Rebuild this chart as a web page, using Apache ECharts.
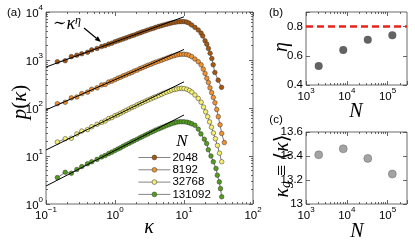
<!DOCTYPE html>
<html><head><meta charset="utf-8">
<script src="https://cdn.jsdelivr.net/npm/echarts@6/dist/echarts.min.js"></script>
<style>html,body{margin:0;padding:0;background:#fff}#c{width:415px;height:241px}</style>
</head><body><div id="c"></div>
<script>
// ---------------- data ----------------
const N_LABELS = ['2048', '8192', '32768', '131092'];
const N_VALUES = [2048, 8192, 32768, 131092];
const COLORS = ['#a8580e', '#f2922e', '#f4ef70', '#529c1e'];

// shared kappa grid for the rising part of p(kappa)
const K_BODY = [0.146,0.19,0.233,0.28,0.33,0.4,0.46,0.55,0.64,0.72,0.81,0.9,1.0,1.1,1.2,1.32,1.45,1.6,1.75,1.9,2.1,2.3,2.5,2.75,3.0,3.3,3.6,3.9,4.3,4.7,5.1,5.6,6.1,6.6,7.2,7.8,8.5,9.2,10];
// values read as log10 p(kappa)
const LOGP_BODY_2048   = [2.965,2.985,3.07,3.10,3.13,3.16,3.21,3.24,3.28,3.30,3.33,3.35,3.38,3.40,3.42,3.44,3.46,3.485,3.505,3.52,3.545,3.565,3.585,3.605,3.625,3.645,3.66,3.68,3.70,3.715,3.73,3.745,3.76,3.772,3.783,3.792,3.798,3.80,3.80];
const LOGP_BODY_8192   = [2.09,2.12,2.21,2.23,2.30,2.33,2.39,2.42,2.48,2.49,2.54,2.56,2.59,2.62,2.64,2.67,2.69,2.72,2.74,2.77,2.79,2.82,2.84,2.866,2.89,2.91,2.935,2.955,2.975,2.995,3.015,3.035,3.055,3.075,3.09,3.105,3.115,3.12,3.12];
const LOGP_BODY_32768  = [1.29,1.36,1.37,1.46,1.52,1.55,1.61,1.66,1.70,1.73,1.78,1.80,1.84,1.86,1.89,1.92,1.95,1.98,2.01,2.03,2.065,2.09,2.115,2.14,2.165,2.19,2.215,2.235,2.26,2.285,2.31,2.33,2.35,2.37,2.385,2.395,2.405,2.41,2.405];
const LOGP_BODY_131092 = [0.55,0.66,0.64,0.72,0.78,0.84,0.88,0.93,0.98,1.01,1.05,1.08,1.115,1.145,1.17,1.205,1.235,1.265,1.295,1.32,1.35,1.38,1.405,1.435,1.46,1.49,1.515,1.54,1.565,1.59,1.61,1.635,1.655,1.675,1.69,1.705,1.713,1.715,1.712];
// cut-off tails
const K_TAIL_2048      = [10.9,11.8,12.9,14.4,16.1,17.7,18.7,20.2,21.4,22.6,23.9,25.3,26.5,28.0,31.3,35.0];
const LOGP_TAIL_2048   = [3.79,3.77,3.73,3.68,3.625,3.56,3.50,3.40,3.33,3.24,3.14,3.03,2.90,2.74,2.58,2.43];
const K_TAIL_8192      = [10.9,11.8,12.9,14.4,16.1,17.7,19.0,20.2,21.4,22.6,23.8,25.2,26.6,28.1,29.8,31.4,33.3,35.2,38.4];
const LOGP_TAIL_8192   = [3.115,3.10,3.07,3.02,2.965,2.90,2.81,2.72,2.62,2.53,2.42,2.32,2.22,2.11,1.97,1.82,1.65,1.47,1.28];
const K_TAIL_32768     = [11.0,12.0,13.0,14.4,16.1,17.7,19.2,20.6,22.0,23.5,25.0,26.7,28.5,30.5,32.7,35.2];
const LOGP_TAIL_32768  = [2.39,2.365,2.33,2.27,2.20,2.12,2.02,1.92,1.82,1.71,1.60,1.48,1.36,1.22,1.06,0.88];
const K_TAIL_131092    = [11.0,12.0,13.0,14.4,16.1,17.6,19.7,21.3,22.5,24.6,26.6,29.1,30.4,32.5,33.8,35.2];
const LOGP_TAIL_131092 = [1.705,1.69,1.67,1.64,1.56,1.46,1.35,1.26,1.13,1.00,0.88,0.74,0.60,0.46,0.32,0.15];

// power-law guide lines ~kappa^eta (log10 p at kappa = 0.1 and kappa = 10)
const FIT_K = [0.1, 10];
const FIT_LOGP_START = [2.854, 1.96, 1.125, 0.375];
const FIT_LOGP_END   = [3.90, 3.22, 2.545, 1.855];

// panel (b) and (c)
const ETA = [0.53, 0.64, 0.71, 0.74];
const ETA_REF = 0.8;
const KAPPA_G = [13.41, 13.46, 13.38, 13.25];

// ---------------- build ----------------
const SANS = '"Liberation Sans", Arial, sans-serif';
const SERIF = '"Liberation Serif", "DejaVu Serif", serif';
const AX = '#444';

const bodies = [LOGP_BODY_2048, LOGP_BODY_8192, LOGP_BODY_32768, LOGP_BODY_131092];
const tailsK = [K_TAIL_2048, K_TAIL_8192, K_TAIL_32768, K_TAIL_131092];
const tailsP = [LOGP_TAIL_2048, LOGP_TAIL_8192, LOGP_TAIL_32768, LOGP_TAIL_131092];

const supRich = {
  b: { fontSize: 11.5, fontFamily: SANS, color: '#000', padding: [4, 0, 0, 0] },
  s: { fontSize: 8, fontFamily: SANS, color: '#000', verticalAlign: 'top' }
};
function powFmt(v) {
  const l = Math.log10(v), e = Math.round(l);
  if (Math.abs(l - e) > 1e-6) return '';
  return '{b|10}{s|' + (e < 0 ? '\u2212' + (-e) : e) + '}';
}
function logMain(grid, min, max, pos) {
  return { type: 'log', logBase: 10, gridIndex: grid, min, max, position: pos,
    axisLine: { show: false, onZero: false }, splitLine: { show: false },
    axisTick: { show: true, inside: true, length: 4, lineStyle: { color: AX, width: 0.8 } },
    axisLabel: { formatter: powFmt, rich: supRich, margin: pos === 'left' ? 3 : 2, showMinLabel: true, showMaxLabel: true } };
}
function tickAxis(grid, pos, min, max, values, len) {
  return { type: 'value', gridIndex: grid, position: pos, min, max,
    axisLine: { show: false, onZero: false }, splitLine: { show: false }, axisLabel: { show: false },
    axisTick: { show: true, inside: true, length: len, customValues: values, lineStyle: { color: AX, width: 0.8 } } };
}
function minors(d0, d1, lo, hi) {
  const out = [];
  for (let d = d0; d <= d1; d++) for (let k = 2; k <= 9; k++) {
    const v = Math.log10(k) + d; if (v > lo + 1e-9 && v < hi - 1e-9) out.push(v);
  }
  return out;
}
const BX_MAX = 3e5, BX_LMAX = Math.log10(BX_MAX);

const grids = [
  { left: 46, top: 12, width: 207, height: 192 },
  { left: 306, top: 12, width: 101, height: 73 },
  { left: 306, top: 132, width: 101, height: 72 }
].map(g => Object.assign(g, { show: true, borderColor: AX, borderWidth: 0.8, backgroundColor: 'transparent' }));

const xAxis = [
  logMain(0, 0.1, 100, 'bottom'),
  logMain(1, 1000, BX_MAX, 'bottom'),
  logMain(2, 1000, BX_MAX, 'bottom'),
  tickAxis(0, 'top', -1, 2, [-1, 0, 1, 2], 4),
  tickAxis(0, 'bottom', -1, 2, minors(-1, 1, -1, 2), 2),
  tickAxis(0, 'top', -1, 2, minors(-1, 1, -1, 2), 2),
  tickAxis(1, 'top', 3, BX_LMAX, [3, 4, 5], 4),
  tickAxis(1, 'bottom', 3, BX_LMAX, minors(3, 5, 3, BX_LMAX), 2),
  tickAxis(1, 'top', 3, BX_LMAX, minors(3, 5, 3, BX_LMAX), 2),
  tickAxis(2, 'top', 3, BX_LMAX, [3, 4, 5], 4),
  tickAxis(2, 'bottom', 3, BX_LMAX, minors(3, 5, 3, BX_LMAX), 2),
  tickAxis(2, 'top', 3, BX_LMAX, minors(3, 5, 3, BX_LMAX), 2)
];
const linLabel = { fontSize: 11.5, fontFamily: SANS, color: '#000', margin: 3 };
const yAxis = [
  logMain(0, 1, 1e4, 'left'),
  { type: 'value', gridIndex: 1, min: 0.4, max: 0.9, interval: 0.2, position: 'left',
    axisLine: { show: false, onZero: false }, splitLine: { show: false },
    axisTick: { show: true, inside: true, length: 4, lineStyle: { color: AX, width: 0.8 } },
    axisLabel: Object.assign({ formatter: v => (v > 0.85 ? '' : v.toFixed(1)) }, linLabel) },
  { type: 'value', gridIndex: 2, min: 13, max: 13.6, interval: 0.2, position: 'left',
    axisLine: { show: false, onZero: false }, splitLine: { show: false },
    axisTick: { show: true, inside: true, length: 4, lineStyle: { color: AX, width: 0.8 } },
    axisLabel: Object.assign({ formatter: v => { const r = Math.round(v * 10) / 10; return r === 13 ? '13' : r.toFixed(1); } }, linLabel) },
  tickAxis(0, 'right', 0, 4, [0, 1, 2, 3, 4], 4),
  tickAxis(0, 'left', 0, 4, minors(0, 3, 0, 4), 2),
  tickAxis(0, 'right', 0, 4, minors(0, 3, 0, 4), 2),
  tickAxis(1, 'right', 0.4, 0.9, [0.4, 0.6, 0.8], 4),
  tickAxis(2, 'right', 13, 13.6, [13, 13.2, 13.4, 13.6], 4)
];

const series = [];
N_LABELS.forEach((name, i) => {
  const ks = K_BODY.concat(tailsK[i]);
  const ps = bodies[i].concat(tailsP[i]);
  series.push({ type: 'line', name, xAxisIndex: 0, yAxisIndex: 0, z: 2,
    data: ks.map((k, j) => [k, Math.pow(10, ps[j])]),
    symbol: 'circle', symbolSize: 4.6, showAllSymbol: true,
    lineStyle: { color: '#555', width: 0.8 },
    itemStyle: { color: COLORS[i], borderColor: '#333', borderWidth: 0.5 } });
});
N_LABELS.forEach((name, i) => {
  series.push({ type: 'line', xAxisIndex: 0, yAxisIndex: 0, z: 3, symbol: 'none',
    data: FIT_K.map((k, j) => [k, Math.pow(10, j === 0 ? FIT_LOGP_START[i] : FIT_LOGP_END[i])]),
    lineStyle: { color: '#000', width: 1 } });
});
series.push({ type: 'scatter', xAxisIndex: 1, yAxisIndex: 1, symbolSize: 8,
  data: N_VALUES.map((n, i) => [n, ETA[i]]), itemStyle: { color: '#3c3c3c' },
  markLine: { silent: true, symbol: 'none', label: { show: false },
    lineStyle: { color: '#e8231b', type: [7, 4], width: 2.5 }, data: [{ yAxis: ETA_REF }] } });
series.push({ type: 'scatter', xAxisIndex: 2, yAxisIndex: 2, symbolSize: 8,
  data: N_VALUES.map((n, i) => [n, KAPPA_G[i]]), itemStyle: { color: '#8c8c8c', borderColor: '#555', borderWidth: 0.5 } });

function txt(x, y, text, size, opts) {
  return Object.assign({ type: 'text', x, y, silent: true,
    style: Object.assign({ text, fontSize: size, fontFamily: SANS, fill: '#000', align: 'center', verticalAlign: 'middle' }, (opts && opts.style) || {}) },
    opts && opts.rot ? { rotation: opts.rot } : {});
}
const it = { fontStyle: 'italic', fontFamily: SERIF };
const graphic = [
  txt(14, 13, '(a)', 11.5),
  txt(276, 13, '(b)', 11.5),
  txt(276, 120, '(c)', 11.5),
  txt(20, 102, '{p|p}{r|(}{p|\u03ba}{r|)}', 21, { rot: Math.PI / 2, style: {
    rich: { p: { fontSize: 21, fontStyle: 'italic', fontFamily: SERIF }, r: { fontSize: 21, fontFamily: SERIF } } } }),
  txt(149, 228, '\u03ba', 20, { style: it }),
  txt(356, 112, 'N', 20, { style: it }),
  txt(357, 232, 'N', 20, { style: it }),
  txt(282, 47, '\u03b7', 20, { rot: Math.PI / 2, style: it }),
  txt(283, 166, '{k|\u03ba}{g|g}{r| \u2261 \u27e8}{k|\u03ba}{r|\u27e9}', 20, { rot: Math.PI / 2, style: {
    rich: { k: { fontSize: 20, fontStyle: 'italic', fontFamily: SERIF }, g: { fontSize: 14, fontStyle: 'italic', fontFamily: SERIF, verticalAlign: 'bottom' }, r: { fontSize: 20, fontFamily: SERIF } } } }),
  txt(182, 142, 'N', 17, { style: it }),
  txt(53, 24, '{a|\u223c}{k|\u03ba}{e|\u03b7}', 17, { style: { align: 'left',
    rich: { a: { fontSize: 16, fontFamily: SERIF }, k: { fontSize: 18, fontStyle: 'italic', fontFamily: SERIF }, e: { fontSize: 12, fontStyle: 'italic', fontFamily: SERIF, verticalAlign: 'top' } } } }),
  { type: 'line', silent: true, shape: { x1: 84, y1: 28, x2: 96.4, y2: 38.2 }, style: { stroke: '#000', lineWidth: 1.2 } },
  { type: 'polygon', silent: true, shape: { points: [[101, 42], [94.8, 40.1], [97.9, 36.2]] }, style: { fill: '#000' } }
];

const chart = echarts.init(document.getElementById('c'), null, { renderer: 'canvas' });
chart.setOption({
  animation: false,
  backgroundColor: '#fff',
  textStyle: { fontFamily: SANS },
  grid: grids, xAxis, yAxis, series, graphic,
  legend: { orient: 'vertical', left: 138, top: 151.5, padding: 0,
    data: N_LABELS.map((n, i) => ({ name: n,
      itemStyle: { color: COLORS[i], borderColor: '#333', borderWidth: 0.5 },
      lineStyle: { color: '#666', width: 0.8 } })),
    itemWidth: 32, itemHeight: 6, itemGap: 0.3, selectedMode: false,
    textStyle: { fontSize: 11.5, fontFamily: SANS, color: '#000', lineHeight: 12, padding: [0, 0, 0, -3] } }
});
</script></body></html>
